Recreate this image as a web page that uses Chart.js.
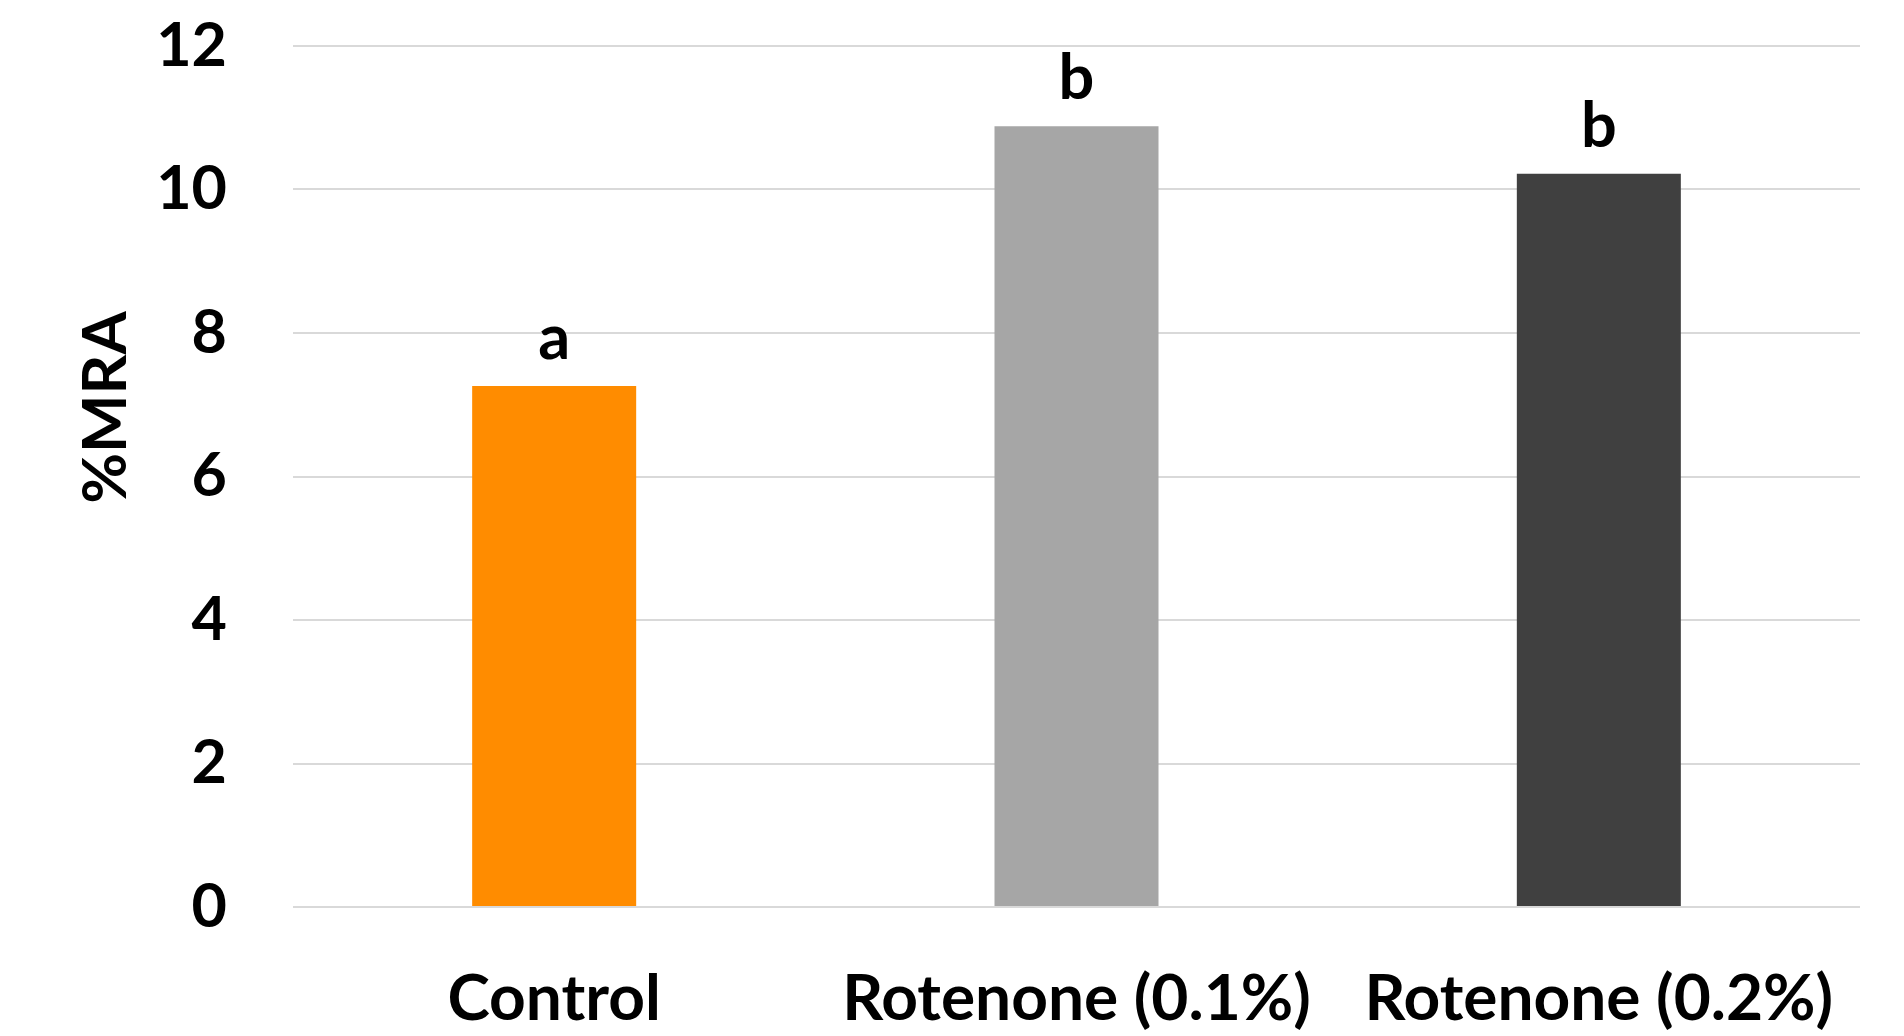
<!DOCTYPE html>
<html>
<head>
<meta charset="utf-8">
<script src="https://cdn.jsdelivr.net/npm/chart.js@4.4.1/dist/chart.umd.min.js"></script>
<style>
  html, body { margin: 0; padding: 0; background: #fff; }
  #wrap { width: 1904px; height: 1036px; }
</style>
</head>
<body>
<div id="wrap"><canvas id="mraChart" width="1904" height="1036"></canvas></div>
<script>
var categories = ["Control", "Rotenone (0.1%)", "Rotenone (0.2%)"];
var mraValues = [7.26, 10.88, 10.22];
var groupLetters = ["a", "b", "b"];
var barColors = ["#FF8C00", "#A6A6A6", "#404040"];
var yTicks = [0, 2, 4, 6, 8, 10, 12];

var fontFamily = "Lato, 'Open Sans', sans-serif";

// letters of significance above each bar
var letterPlugin = {
    id: 'letters',
    afterDatasetsDraw: function(chart) {
        var ctx = chart.ctx;
        var meta = chart.getDatasetMeta(0);
        ctx.save();
        ctx.font = "bold 63px " + fontFamily;
        ctx.fillStyle = "#000";
        ctx.textAlign = "center";
        ctx.textBaseline = "alphabetic";
        meta.data.forEach(function(bar, i) {
            ctx.fillText(groupLetters[i], bar.x, bar.y - 27);
        });
        ctx.restore();
    }
};

// axis title sits a bit above the middle of the axis, as in the original
var yTitlePlugin = {
    id: 'yTitle',
    afterDraw: function(chart) {
        var ctx = chart.ctx;
        var area = chart.chartArea;
        ctx.save();
        ctx.translate(106, area.top + (area.bottom - area.top) * 0.42);
        ctx.rotate(-Math.PI / 2);
        ctx.font = "bold 62px " + fontFamily;
        ctx.fillStyle = "#000";
        ctx.textAlign = "center";
        ctx.textBaseline = "middle";
        ctx.fillText("%MRA", 0, 0);
        ctx.restore();
    }
};

var mraChart = new Chart(document.getElementById("mraChart"), {
    type: 'bar',
    data: {
        labels: categories,
        datasets: [{
            label: '%MRA',
            data: mraValues,
            backgroundColor: barColors,
            borderWidth: 0,
            barPercentage: 0.314,
            categoryPercentage: 1
        }]
    },
    options: {
        responsive: false,
        animation: false,
        layout: {
            padding: { top: 46, right: 44, bottom: 0, left: 0 }
        },
        plugins: {
            legend: { display: false },
            tooltip: { enabled: false }
        },
        scales: {
            x: {
                grid: { display: false, drawTicks: false },
                border: { display: false },
                ticks: {
                    color: '#000',
                    padding: 54,
                    font: { family: fontFamily, size: 64, weight: 'bold' }
                },
                afterFit: function(scale) {
                    scale.height = 129;
                    scale.paddingLeft = 0;
                    scale.paddingRight = 0;
                }
            },
            y: {
                min: 0,
                max: 12,
                grid: { color: '#D9D9D9', lineWidth: 2, drawTicks: false },
                border: { display: false },
                afterBuildTicks: function(scale) {
                    scale.ticks = yTicks.map(function(v) { return { value: v }; });
                },
                ticks: {
                    color: '#000',
                    padding: 66,
                    font: { family: fontFamily, size: 61, weight: 'bold' }
                },
                afterFit: function(scale) {
                    scale.width = 293;
                    scale.paddingTop = 0;
                    scale.paddingBottom = 0;
                }
            }
        }
    },
    plugins: [letterPlugin, yTitlePlugin]
});
</script>
</body>
</html>
